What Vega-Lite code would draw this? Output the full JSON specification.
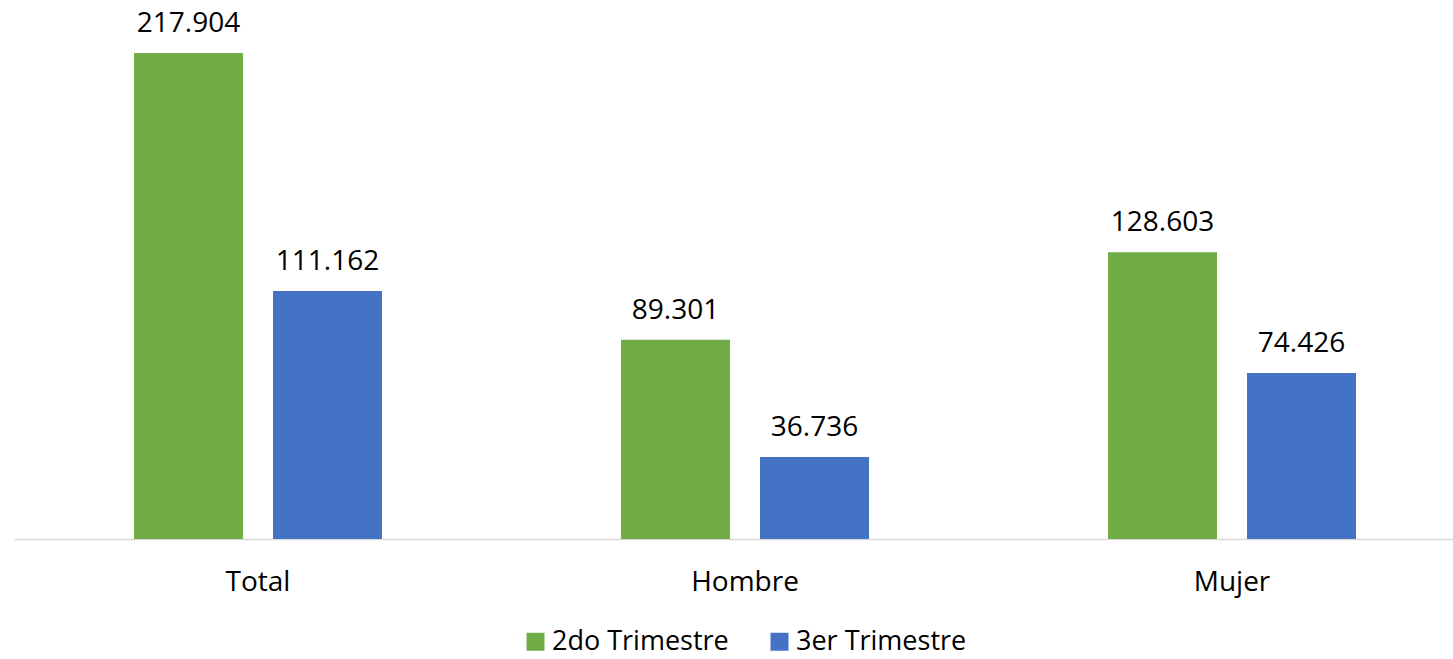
{
  "$schema": "https://vega.github.io/schema/vega-lite/v6.json",
  "width": 1439,
  "height": 539,
  "autosize": {"type": "none"},
  "padding": {"left": 14, "top": 0, "right": 0, "bottom": 120},
  "data": {
    "values": [
      {"categoria": "Total", "serie": "2do Trimestre", "valor": 217.904},
      {"categoria": "Total", "serie": "3er Trimestre", "valor": 111.162},
      {"categoria": "Hombre", "serie": "2do Trimestre", "valor": 89.301},
      {"categoria": "Hombre", "serie": "3er Trimestre", "valor": 36.736},
      {"categoria": "Mujer", "serie": "2do Trimestre", "valor": 128.603},
      {"categoria": "Mujer", "serie": "3er Trimestre", "valor": 74.426}
    ]
  },
  "encoding": {
    "x": {
      "field": "categoria",
      "type": "nominal",
      "sort": ["Total", "Hombre", "Mujer"],
      "scale": {"paddingInner": 0.4908, "paddingOuter": 0.2228, "align": 0.553},
      "axis": {
        "title": null,
        "domainColor": "#D9D9D9",
        "domainWidth": 1.5,
        "ticks": false,
        "labelAngle": 0,
        "labelFont": "Open Sans",
        "labelFontSize": 28,
        "labelColor": "#000000",
        "labelPadding": 29
      }
    },
    "xOffset": {
      "field": "serie",
      "type": "nominal",
      "sort": ["2do Trimestre", "3er Trimestre"],
      "scale": {"paddingInner": 0.216, "paddingOuter": 0}
    },
    "y": {
      "field": "valor",
      "type": "quantitative",
      "scale": {"domain": [0, 241.67], "nice": false},
      "axis": null
    }
  },
  "layer": [
    {
      "mark": {"type": "bar"},
      "encoding": {
        "color": {
          "field": "serie",
          "type": "nominal",
          "sort": ["2do Trimestre", "3er Trimestre"],
          "scale": {"domain": ["2do Trimestre", "3er Trimestre"], "range": ["#70AD47", "#4472C4"]},
          "legend": {
            "title": null,
            "orient": "none",
            "direction": "horizontal",
            "legendX": 508,
            "legendY": 628,
            "padding": 0,
            "symbolType": "square",
            "symbolSize": 324,
            "symbolStrokeWidth": 0,
            "symbolOpacity": 1,
            "labelFont": "Open Sans",
            "labelFontSize": 27,
            "labelLimit": 0,
            "labelColor": "#000000",
            "labelOffset": 3,
            "columnPadding": 37
          }
        }
      }
    },
    {
      "mark": {"type": "text", "baseline": "alphabetic", "dy": -21, "font": "Open Sans", "fontSize": 28, "color": "#000000"},
      "encoding": {
        "text": {"field": "valor", "type": "quantitative", "format": ".3f"}
      }
    }
  ],
  "config": {"view": {"stroke": null}}
}
